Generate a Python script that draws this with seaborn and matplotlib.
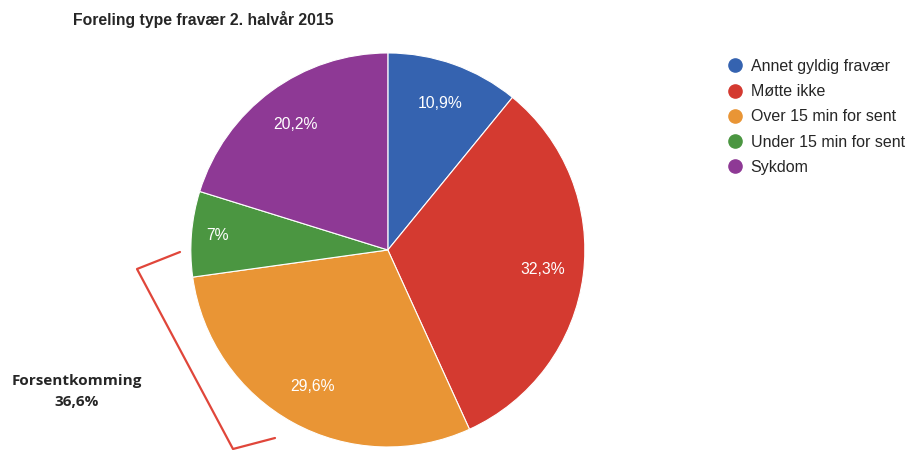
import numpy as np
import seaborn as sns
import matplotlib.pyplot as plt
from matplotlib.lines import Line2D

# Data
kategorier = ['Annet gyldig fravær', 'Møtte ikke', 'Over 15 min for sent', 'Under 15 min for sent', 'Sykdom']
andel = [10.9, 32.3, 29.6, 7.0, 20.2]
etiketter = ['10,9%', '32,3%', '29,6%', '7%', '20,2%']
farger = ['#3563b0', '#d43a30', '#e99535', '#4b9641', '#8e3995']

sns.set_style('white')
plt.rcParams['font.family'] = ['Liberation Sans', 'DejaVu Sans']

fig = plt.figure(figsize=(9.13, 4.5), dpi=100)
ax = fig.add_axes([0.209, 0.0067, 0.4316, 0.8756])

wedges, _ = ax.pie(andel, colors=farger, startangle=90, counterclock=False,
                   wedgeprops=dict(edgecolor='white', linewidth=0.8))
ax.set_aspect('equal')
ax.set_xlim(-1, 1)
ax.set_ylim(-1, 1)
ax.axis('off')

# Prosent-etiketter inne i sektorene
start = 90.0
for w, lab, frac in zip(wedges, etiketter, andel):
    mid = np.deg2rad(start - frac / 100 * 360 / 2)
    start -= frac / 100 * 360
    r = 0.87 if frac < 8 else 0.79
    ax.text(r * np.cos(mid), r * np.sin(mid), lab, color='white',
            ha='center', va='center', fontsize=11.3)

# Tittel
fig.text(73 / 913, 1 - 20 / 450, 'Foreling type fravær 2. halvår 2015',
         fontsize=11.3, fontweight='bold', ha='left', va='center')

# Legende
handles = [Line2D([0], [0], marker='o', linestyle='', markersize=9.5,
                  markerfacecolor=c, markeredgecolor=c) for c in farger]
fig.legend(handles, kategorier, loc='upper left', bbox_to_anchor=(721 / 913, 1 - 51 / 450),
           frameon=False, fontsize=11.5, handlelength=0.8, handletextpad=0.55,
           labelspacing=0.64, borderpad=0)

# Klamme for forsentkomming
px = np.array([180, 137, 233, 275]) / 913
py = 1 - np.array([252, 269, 449, 438]) / 450
fig.add_artist(Line2D(px, py, color='#e0463a', linewidth=1.6, transform=fig.transFigure))

fig.text(77 / 913, 1 - 381 / 450, 'Forsentkomming', family=['Open Sans', 'DejaVu Sans'],
         fontsize=11, fontweight='bold', ha='center', va='center')
fig.text(77 / 913, 1 - 402 / 450, '36,6%', family=['Open Sans', 'DejaVu Sans'],
         fontsize=11, fontweight='bold', ha='center', va='center')

fig.savefig('out.png', dpi=100)
